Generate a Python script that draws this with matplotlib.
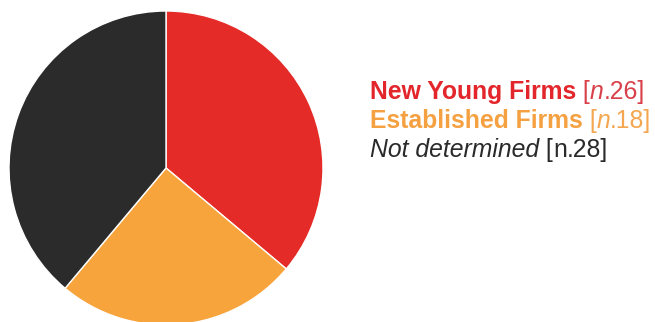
import matplotlib
matplotlib.use("Agg")
import matplotlib.pyplot as plt

labels = ["New Young Firms", "Established Firms", "Not determined"]
counts = [26, 18, 28]
slice_colors = ["#E42B27", "#F8A43C", "#2B2B2B"]
label_colors = ["#E3262B", "#F5A141", "#2A2A2A"]
bracket_colors = ["#D8404A", "#F4A750", "#2A2A2A"]

W, H = 655, 322
fig = plt.figure(figsize=(W / 100, H / 100), dpi=100)
fig.patch.set_facecolor("white")

# pie: centre (166, 168) px from top-left, radius 157 px
cx, cy, r = 166, 168, 157
ax = fig.add_axes([(cx - r) / W, (H - cy - r) / H, 2 * r / W, 2 * r / H])
ax.pie(counts, colors=slice_colors, startangle=90, counterclock=False,
       wedgeprops=dict(edgecolor="white", linewidth=1), radius=1)
ax.set_xlim(-1, 1)
ax.set_ylim(-1, 1)
ax.axis("off")

# legend, built piece by piece
fam = ["Liberation Sans", "DejaVu Sans"]
fs = 17.8
renderer = fig.canvas.get_renderer()
x0 = 370
baselines = [99, 128, 157]
for i, (lab, n) in enumerate(zip(labels, counts)):
    if i < 2:
        pieces = [(lab, "bold", "normal", label_colors[i]),
                  (" [", "normal", "normal", bracket_colors[i]),
                  ("n", "normal", "italic", bracket_colors[i]),
                  (f".{n}]", "normal", "normal", bracket_colors[i])]
    else:
        pieces = [(lab, "normal", "italic", label_colors[i]),
                  (" [", "normal", "normal", bracket_colors[i]),
                  ("n", "normal", "normal", bracket_colors[i]),
                  (f".{n}]", "normal", "normal", bracket_colors[i])]
    x = x0
    for s, w, st, c in pieces:
        t = fig.text(x / W, 1 - baselines[i] / H, s, fontsize=fs, fontweight=w,
                     fontstyle=st, color=c, family=fam, va="baseline", ha="left")
        x = t.get_window_extent(renderer).x1

fig.savefig("out.png", dpi=100)
